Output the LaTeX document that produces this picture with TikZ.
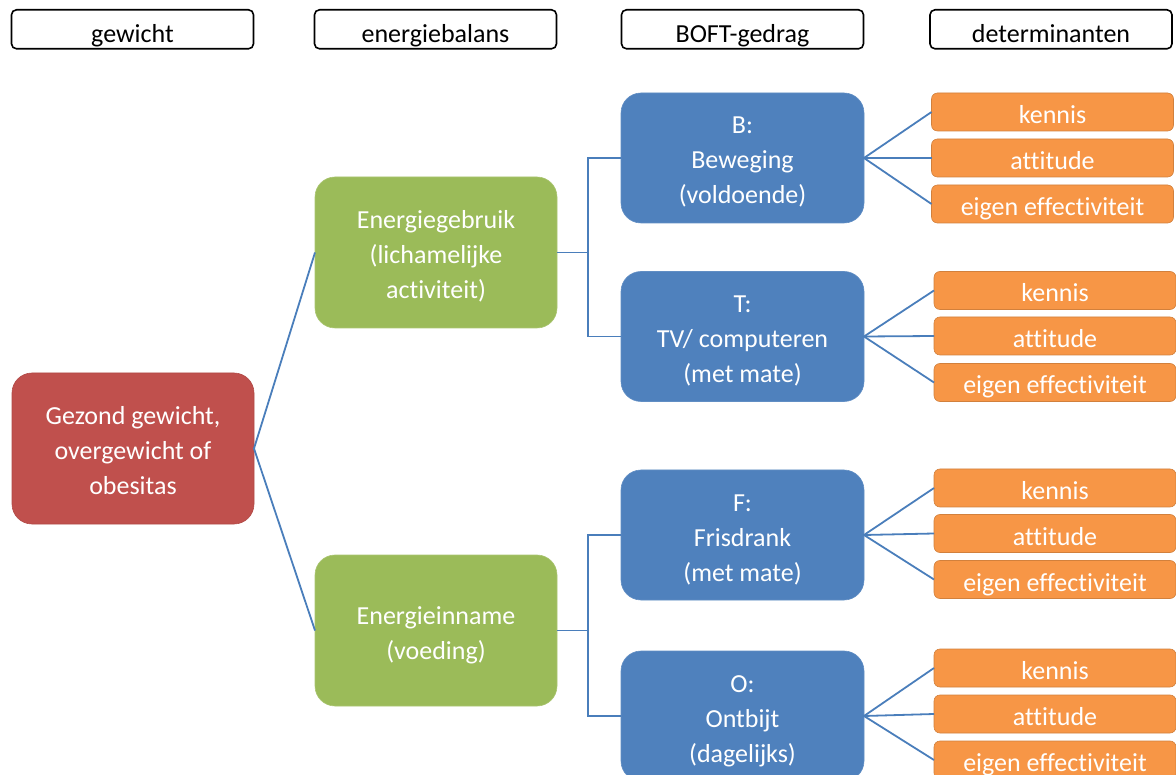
\documentclass[tikz,border=0pt]{standalone}
\usepackage{fontspec}
\setmainfont{Carlito}[Ligatures=CommonOff]
\definecolor{hred}{HTML}{C0504D}
\definecolor{hgreen}{HTML}{9BBB59}
\definecolor{hblue}{HTML}{4F81BD}
\definecolor{horange}{HTML}{F79646}
\definecolor{hline}{HTML}{4A7EBB}
\newcommand{\hst}{\rule[-6pt]{0pt}{39pt}}
\newcommand{\sst}{\rule[-6pt]{0pt}{35pt}}
\newcommand{\mst}{\rule[-6pt]{0pt}{34pt}}
\begin{document}
\begin{tikzpicture}[x=1pt,y=-1pt,
  every node/.style={inner sep=0pt,outer sep=0pt,font=\fontsize{26}{35}\selectfont,align=center},
  headbox/.style={draw=black,line width=1.6pt,rounded corners=5pt,minimum width=242pt,minimum height=38pt,text=black},
  redbox/.style={fill=hred,draw=hred!92!black,line width=0.6pt,rounded corners=20pt,minimum width=242pt,minimum height=151pt,text=white},
  greenbox/.style={fill=hgreen,draw=hgreen!85!white,line width=0.6pt,rounded corners=20pt,minimum width=242pt,minimum height=151pt,text=white},
  bluebox/.style={fill=hblue,draw=hblue!90!white,line width=0.6pt,rounded corners=20pt,minimum width=243pt,minimum height=130pt,text=white},
  detbox/.style={fill=horange,draw=horange!85!black,line width=0.6pt,rounded corners=6pt,minimum width=242pt,minimum height=38pt,text=white},
  conn/.style={draw=hline,line width=1.8pt}
]
\useasboundingbox (0,0) rectangle (1176,775);

% headers
\node[headbox] (h1) at (132.5,29.3) {\hst gewicht};
\node[headbox] (h2) at (435.5,29.3) {\hst energiebalans};
\node[headbox] (h3) at (742.5,29.3) {\hst BOFT-gedrag};
\node[headbox] (h4) at (1051,29.3) {\hst determinanten};

% main nodes
\node[redbox] (w) at (133,448.5) {\mst Gezond gewicht,\\\mst overgewicht of\\\mst obesitas};
\node[greenbox] (eg) at (436,252.5) {\mst Energiegebruik\\\mst (lichamelijke\\\mst activiteit)};
\node[greenbox] (ei) at (436,630.5) {\mst Energieinname\\\mst (voeding)};

\node[bluebox] (b) at (742.5,158) {\mst B:\\\mst Beweging\\\mst (voldoende)};
\node[bluebox] (t) at (742.5,336.5) {\mst T:\\\mst TV/ computeren\\\mst (met mate)};
\node[bluebox] (f) at (742.5,535) {\mst F:\\\mst Frisdrank\\\mst (met mate)};
\node[bluebox] (o) at (742.5,716) {\mst O:\\\mst Ontbijt\\\mst (dagelijks)};

% determinants
\node[detbox] (bk) at (1052.5,112) {\sst kennis};
\node[detbox] (ba) at (1052.5,158) {\sst attitude};
\node[detbox] (be) at (1052.5,204) {\sst eigen effectiviteit};

\node[detbox] (tk) at (1055,290.5) {\sst kennis};
\node[detbox] (ta) at (1055,336) {\sst attitude};
\node[detbox] (te) at (1055,382.5) {\sst eigen effectiviteit};

\node[detbox] (fk) at (1055,488) {\sst kennis};
\node[detbox] (fa) at (1055,533.5) {\sst attitude};
\node[detbox] (fe) at (1055,579.5) {\sst eigen effectiviteit};

\node[detbox] (ok) at (1055,668) {\sst kennis};
\node[detbox] (oa) at (1055,714) {\sst attitude};
\node[detbox] (oe) at (1055,760) {\sst eigen effectiviteit};

% connectors
\draw[conn] (eg.west) -- (w.east) -- (ei.west);

\draw[conn] (eg.east) -- ++(31,0) coordinate (j1);
\draw[conn] (b.west) -| (j1) |- (t.west);
\draw[conn] (ei.east) -- ++(31,0) coordinate (j2);
\draw[conn] (f.west) -| (j2) |- (o.west);

\foreach \s/\a/\bb/\c in {b/bk/ba/be, t/tk/ta/te, f/fk/fa/fe, o/ok/oa/oe}{
  \draw[conn] (\a.west) -- (\s.east) -- (\c.west);
  \draw[conn] (\s.east) -- (\bb.west);
}
\end{tikzpicture}
\end{document}
